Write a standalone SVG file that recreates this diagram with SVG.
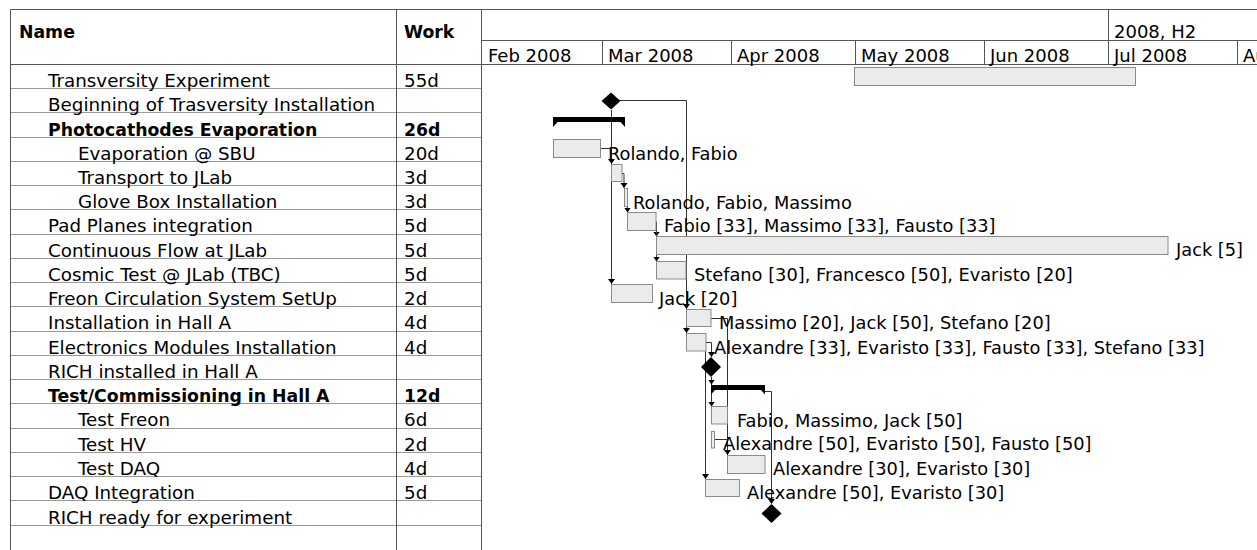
<svg xmlns="http://www.w3.org/2000/svg" width="1257" height="550" viewBox="0 0 1257 550">
<style>
text{font-family:"DejaVu Sans","Liberation Sans",sans-serif;fill:#000}
.t{font-size:18.3px}
.b{font-size:17.3px;font-weight:bold}
.l{font-size:17.8px}
.m{font-size:18px}
.grid{stroke:#999;stroke-width:1;fill:none}
.frame{stroke:#555;stroke-width:1;fill:none}
.bar{fill:#ebebeb;stroke:#8a8a8a;stroke-width:1}
.sum{fill:#000}
.ms{fill:#000}
.c{fill:none;stroke:#333;stroke-width:1}
</style>
<defs>
<marker id="ah" markerUnits="userSpaceOnUse" markerWidth="6" markerHeight="8" refX="5" refY="3.5" orient="auto">
<path d="M0,0 L5,3.5 L0,7 Z" fill="#000"/>
</marker>
</defs>
<rect width="1257" height="550" fill="#fff"/>

<g id="table">
<g class="grid">
<path d="M10,88.5H481M10,112.5H481M10,137.5H481M10,161.5H481M10,185.5H481M10,209.5H481M10,234.5H481M10,258.5H481M10,282.5H481M10,306.5H481M10,331.5H481M10,355.5H481M10,379.5H481M10,403.5H481M10,428.5H481M10,452.5H481M10,476.5H481M10,500.5H481M10,525.5H481"/>
</g>
<g class="frame">
<path d="M10.5,550V9.5H1257M10,64.5H1257M396.5,9V550M481.5,9V550M481,40.5H1257"/>
<path d="M602.5,40V64M731.5,40V64M855.5,40V64M984.5,40V64M1108.5,9V64M1237.5,40V64"/>
</g>
<text class="b" x="19" y="38">Name</text>
<text class="b" x="404" y="38">Work</text>
<text class="m" x="488" y="62">Feb 2008</text>
<text class="m" x="608" y="62">Mar 2008</text>
<text class="m" x="737" y="62">Apr 2008</text>
<text class="m" x="861" y="62">May 2008</text>
<text class="m" x="990" y="62">Jun 2008</text>
<text class="m" x="1114" y="62">Jul 2008</text>
<text class="m" x="1243" y="62">Au</text>
<text class="m" x="1114" y="38">2008, H2</text>
</g>

<g id="names">
<text class="t" x="48" y="87">Transversity Experiment</text><text class="t" x="404" y="87">55d</text>
<text class="t" x="48" y="111">Beginning of Trasversity Installation</text>
<text class="b" x="48" y="135.5">Photocathodes Evaporation</text><text class="b" x="404" y="135.5">26d</text>
<text class="t" x="78" y="159.5">Evaporation @ SBU</text><text class="t" x="404" y="159.5">20d</text>
<text class="t" x="78" y="183.5">Transport to JLab</text><text class="t" x="404" y="183.5">3d</text>
<text class="t" x="78" y="208">Glove Box Installation</text><text class="t" x="404" y="208">3d</text>
<text class="t" x="48" y="232.3">Pad Planes integration</text><text class="t" x="404" y="232.3">5d</text>
<text class="t" x="48" y="256.6">Continuous Flow at JLab</text><text class="t" x="404" y="256.6">5d</text>
<text class="t" x="48" y="280.8">Cosmic Test @ JLab (TBC)</text><text class="t" x="404" y="280.8">5d</text>
<text class="t" x="48" y="305.1">Freon Circulation System SetUp</text><text class="t" x="404" y="305.1">2d</text>
<text class="t" x="48" y="329.4">Installation in Hall A</text><text class="t" x="404" y="329.4">4d</text>
<text class="t" x="48" y="353.6">Electronics Modules Installation</text><text class="t" x="404" y="353.6">4d</text>
<text class="t" x="48" y="377.9">RICH installed in Hall A</text>
<text class="b" x="48" y="402.1">Test/Commissioning in Hall A</text><text class="b" x="404" y="402.1">12d</text>
<text class="t" x="78" y="426.4">Test Freon</text><text class="t" x="404" y="426.4">6d</text>
<text class="t" x="78" y="450.7">Test HV</text><text class="t" x="404" y="450.7">2d</text>
<text class="t" x="78" y="474.9">Test DAQ</text><text class="t" x="404" y="474.9">4d</text>
<text class="t" x="48" y="499.2">DAQ Integration</text><text class="t" x="404" y="499.2">5d</text>
<text class="t" x="48" y="523.5">RICH ready for experiment</text>
</g>

<g id="connectors">
<path class="c" d="M620,100.5H686.5V309" marker-end="url(#ah)"/>
<path class="c" d="M686.5,309V333" marker-end="url(#ah)"/>
<path class="c" d="M611.5,110V284" marker-end="url(#ah)"/>
<path class="c" d="M600,148.5H611.5V164" marker-end="url(#ah)"/>
<path class="c" d="M622,173.5H624V188" marker-end="url(#ah)"/>
<path class="c" d="M627,197.5H627.5V212.5" marker-end="url(#ah)"/>
<path class="c" d="M656.5,221.5V236.5" marker-end="url(#ah)"/>
<path class="c" d="M656.5,230V261.5" marker-end="url(#ah)"/>
<path class="c" d="M711,318.5H727.5V455" marker-end="url(#ah)"/>
<path class="c" d="M706,342.5H711.5V357" marker-end="url(#ah)"/>
<path class="c" d="M705.5,351V479" marker-end="url(#ah)"/>
<path class="c" d="M711.5,377V384.5" marker-end="url(#ah)"/>
<path class="c" d="M711.5,384V406.5" marker-end="url(#ah)"/>
<path class="c" d="M714.5,439.5H727.5"/>
<path class="c" d="M765,391.5H771.5V504" marker-end="url(#ah)"/>
</g>

<g id="task-transversity"><rect class="bar" x="854.5" y="67.5" width="281" height="18"/></g>
<g id="ms-beginning"><path class="ms" d="M611,92.5L620.5,101L611,109.5L601.5,101Z"/></g>
<g id="sum-photocathodes"><path class="sum" d="M553,117H625V127L620.5,122H557.5L553,127Z"/></g>
<g id="task-evaporation"><rect class="bar" x="553.5" y="139.5" width="47" height="18"/><text class="l" x="608" y="160">Rolando, Fabio</text></g>
<g id="task-transport"><rect class="bar" x="611.5" y="164.5" width="10.5" height="17"/></g>
<g id="task-glovebox"><rect class="bar" x="624.5" y="188.5" width="3" height="18"/><text class="l" x="633" y="208.5">Rolando, Fabio, Massimo</text></g>
<g id="task-padplanes"><rect class="bar" x="627.5" y="212.5" width="28.5" height="18"/><text class="l" x="664" y="231.5">Fabio [33], Massimo [33], Fausto [33]</text></g>
<g id="task-continuous"><rect class="bar" x="656.5" y="236.5" width="511.5" height="18"/><text class="l" x="1176" y="255.5">Jack [5]</text></g>
<g id="task-cosmic"><rect class="bar" x="656.5" y="261.5" width="29.5" height="17.5"/><text class="l" x="694" y="280.5">Stefano [30], Francesco [50], Evaristo [20]</text></g>
<g id="task-freon"><rect class="bar" x="611.5" y="284.5" width="41" height="18"/><text class="l" x="659" y="305">Jack [20]</text></g>
<g id="task-installation"><rect class="bar" x="686.5" y="309.5" width="24.5" height="17"/><text class="l" x="719" y="329.4">Massimo [20], Jack [50], Stefano [20]</text></g>
<g id="task-electronics"><rect class="bar" x="686.5" y="333.5" width="19.5" height="17.5"/><text class="l" x="714" y="353.8">Alexandre [33], Evaristo [33], Fausto [33], Stefano [33]</text></g>
<g id="ms-rich-installed"><path class="ms" d="M711,357L721,367L711,377L701,367Z"/></g>
<g id="sum-test"><path class="sum" d="M711,385H765V394.5L761,390H715L711,394.5Z"/></g>
<g id="task-testfreon"><rect class="bar" x="711.5" y="406.5" width="16" height="17.5"/><text class="l" x="737" y="427">Fabio, Massimo, Jack [50]</text></g>
<g id="task-testhv"><rect class="bar" x="711.5" y="431.5" width="3" height="16.5"/><text class="l" x="723" y="450">Alexandre [50], Evaristo [50], Fausto [50]</text></g>
<g id="task-testdaq"><rect class="bar" x="727.5" y="455.5" width="37.5" height="18"/><text class="l" x="773" y="475">Alexandre [30], Evaristo [30]</text></g>
<g id="task-daqint"><rect class="bar" x="705.5" y="479.5" width="34" height="17"/><text class="l" x="747" y="498.5">Alexandre [50], Evaristo [30]</text></g>
<g id="ms-rich-ready"><path class="ms" d="M771.5,504L781.5,513.5L771.5,523L761.5,513.5Z"/></g>
</svg>
